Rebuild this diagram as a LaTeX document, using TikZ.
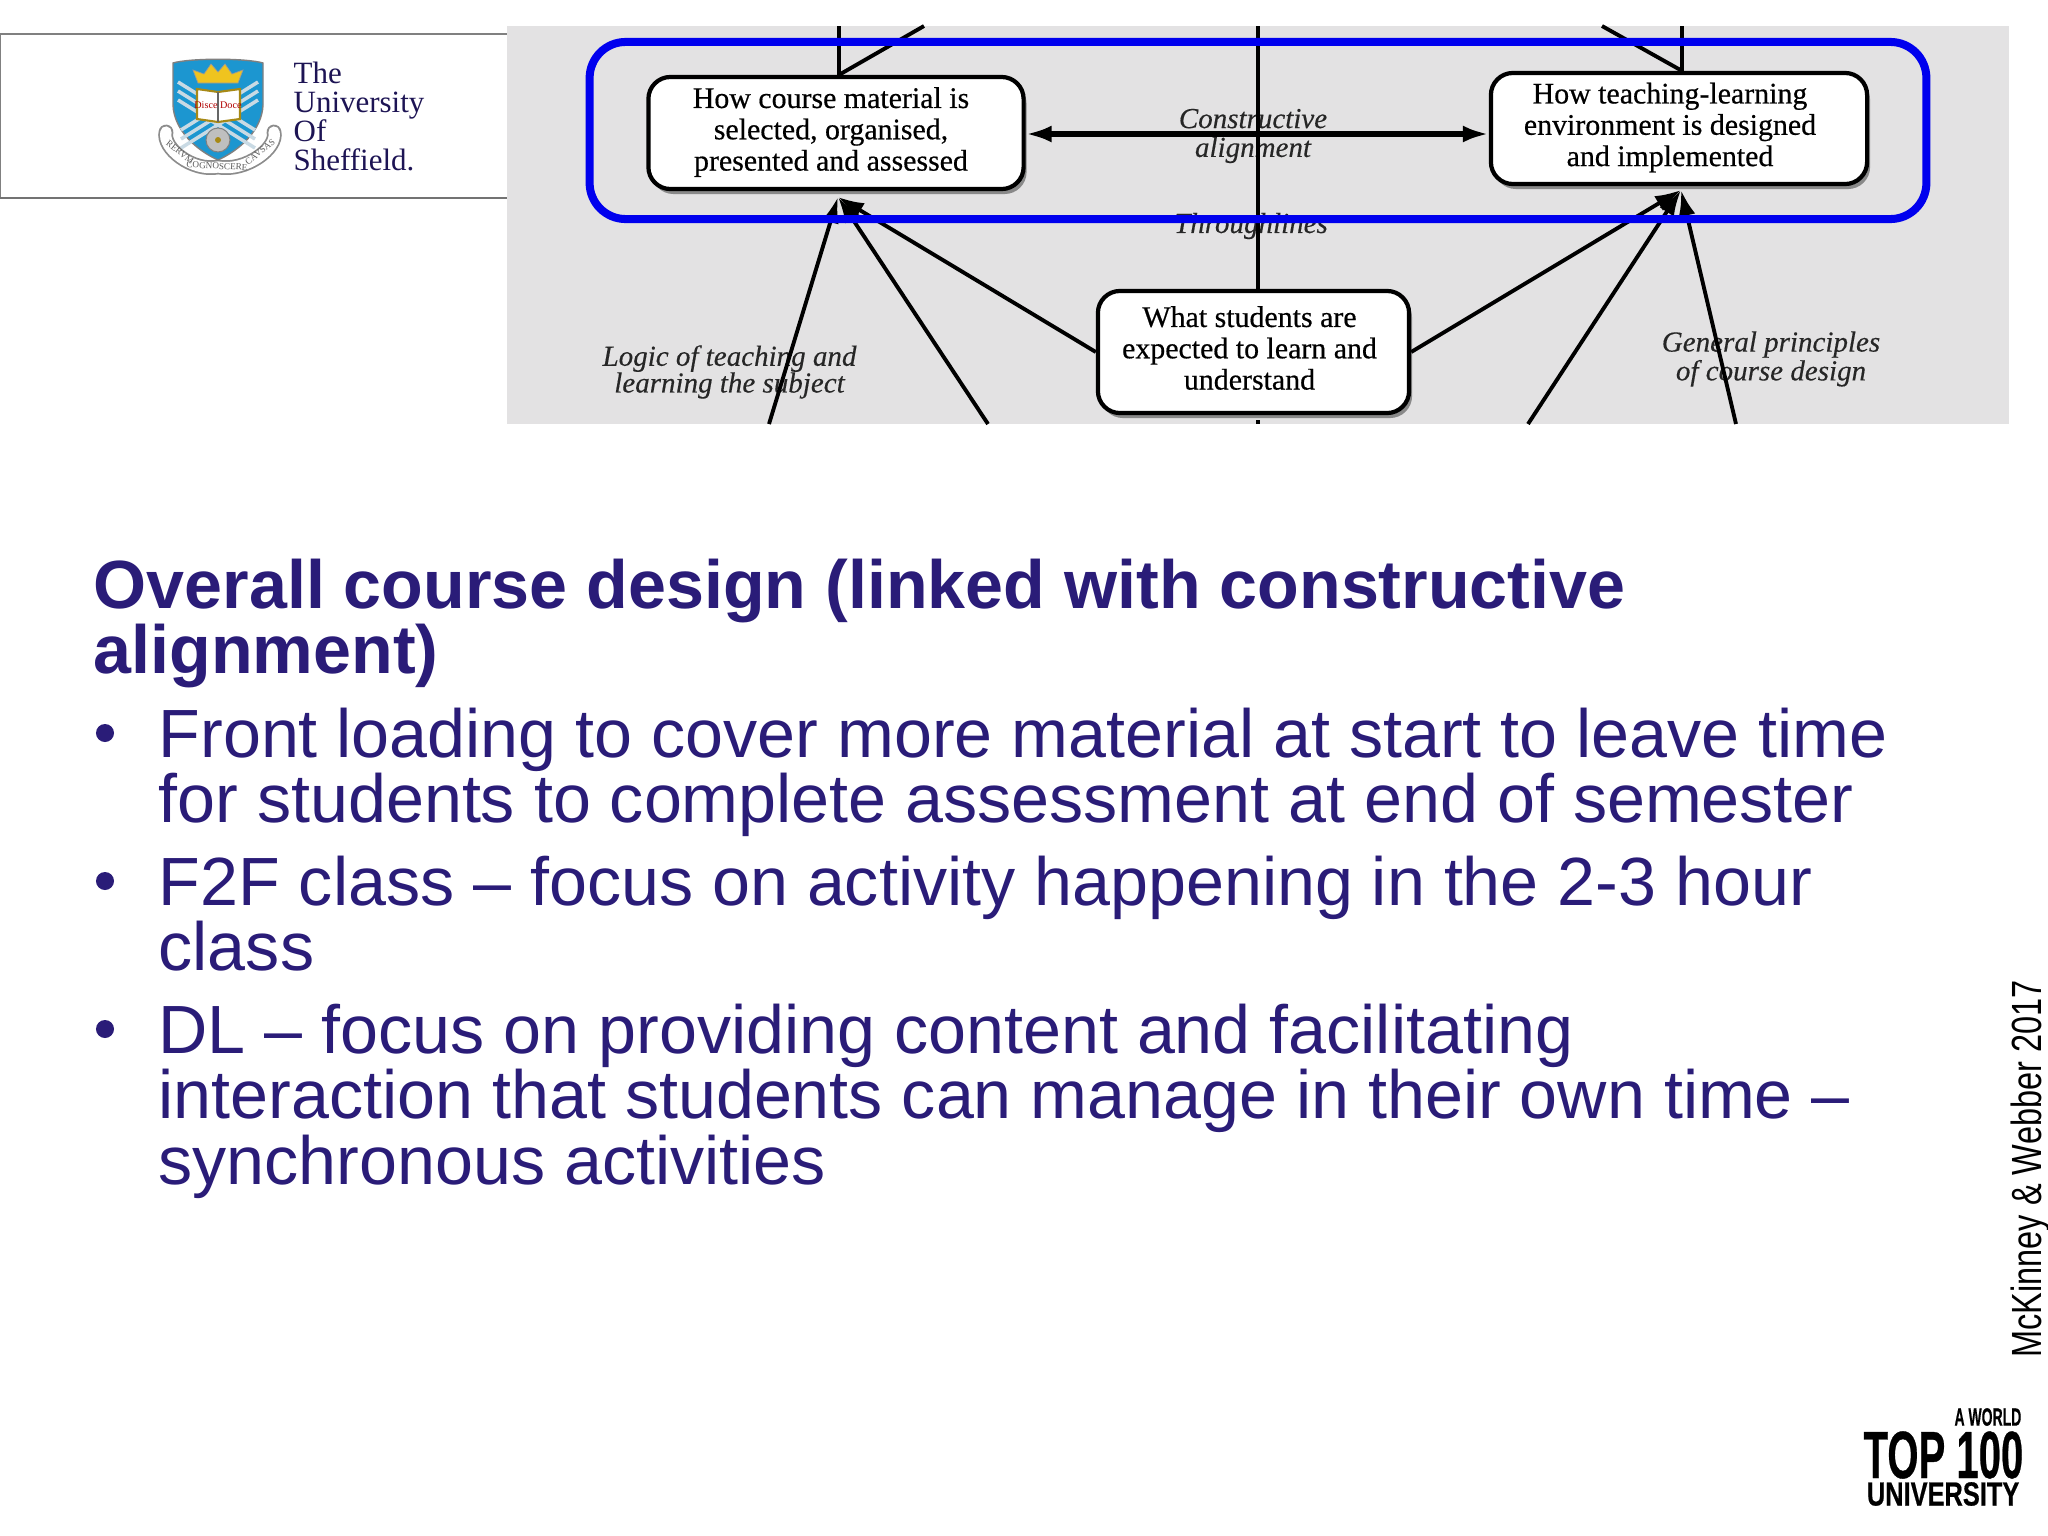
\documentclass[tikz,border=0pt]{standalone}
\usepackage{fontspec}
\setmainfont{Liberation Sans}
\newfontfamily\serifboxfont[FakeBold=0.5]{Liberation Serif}
\newfontfamily\seriflabelfont[FakeBold=0.3]{Liberation Serif}
\newfontfamily\seriffont{Liberation Serif}
\newfontfamily\creditfont[FakeStretch=0.77]{Liberation Sans}
\newfontfamily\rankfont[FakeBold=0.6]{Liberation Sans}
\usetikzlibrary{shadows,arrows.meta}
\setlength{\lineskiplimit}{-20pt}
\definecolor{slideink}{HTML}{2A1C78}
\definecolor{panelgrey}{HTML}{E3E2E3}
\definecolor{crestblue}{HTML}{1C96D0}
\definecolor{crestgold}{HTML}{EFC41F}
\definecolor{crestoar}{HTML}{C9DAE4}
\definecolor{framingblue}{HTML}{0000EE}
% text of a box, moved a little off the middle of the box
\newcommand{\boxlines}[3]{\lineskiplimit=0pt\hspace*{#1}\raisebox{#2}{\begin{tabular}{@{}c@{}}#3\end{tabular}}}
\tikzset{
  stagebox/.style={draw=black, line width=1.2pt, fill=white, rounded corners=0.22cm,
    inner sep=0pt, font=\serifboxfont\fontsize{8.5}{8.9}\selectfont,
    drop shadow={shadow xshift=0.03cm, shadow yshift=-0.05cm, fill=black!55, opacity=0.8}},
  linklabel/.style={align=center, inner sep=0pt, text=black!85,
    font=\seriflabelfont\itshape\fontsize{8.25}{8.2}\selectfont},
  link/.style={draw=black, line width=1.1pt},
  bodytext/.style={anchor=north west, align=left, inner sep=0pt, text=slideink,
    font=\fontsize{19.4}{18.64}\selectfont},
  bulletdot/.style={circle, fill=slideink, inner sep=0pt, minimum size=0.18cm},
  crestword/.style={inner sep=0pt, text=black!65, font=\seriffont\fontsize{2.6}{3}\selectfont},
  rankword/.style={inner sep=0pt, anchor=east, text=black}
}
\begin{document}
\begin{tikzpicture}[x=0.01cm, y=-0.01cm, >={Latex[length=0.26cm, width=0.17cm]}]

    % Fix the page
    \useasboundingbox (0,0) rectangle (2048,1536);
    \fill[white] (0,0) rectangle (2048,1536);

    % Draw the header strip
    \draw[black!50, line width=0.5pt] (507,34) -- (0.5,34) -- (0.5,198);
    \draw[black!55, line width=0.8pt] (0.5,198) -- (507,198);

    % Draw the crest
    \draw[black!45, line width=4.2pt, line cap=round] (166,132) .. controls (162,148) and (192,172) .. (218,167) .. controls (246,172) and (278,148) .. (274,132);
    \draw[white, line width=3.2pt, line cap=round] (166,132) .. controls (162,148) and (192,172) .. (218,167) .. controls (246,172) and (278,148) .. (274,132);
    \fill[crestblue, draw=black!50] (173,63) .. controls (190,58) and (246,58) .. (263,63) -- (263,105) .. controls (262,130) and (240,150) .. (218,160) .. controls (196,150) and (174,130) .. (173,105) -- cycle;
    \foreach \oarend/\oarstart in {178/255, 258/181} {
      \foreach \oarshift in {0,9,18} {
        \draw[crestoar, line width=1pt] (\oarend,82+\oarshift) -- (\oarstart,130+\oarshift);
      }
    }
    \fill[crestgold, draw=black!40, line width=0.2pt] (198,83) -- (193,70) -- (204,74) -- (211,64) -- (218,72) -- (225,64) -- (232,74) -- (243,70) -- (238,83) -- cycle;
    \fill[white, draw=crestgold!70!black, line width=0.6pt] (197,89) -- (218,92) -- (240,89) -- (240,119) -- (218,122) -- (197,119) -- cycle;
    \draw[black!60, line width=0.3pt] (218,92) -- (218,122);
    \node[inner sep=0pt, text=red!70!black, font=\seriffont\fontsize{2.9}{3}\selectfont] (crestmotto) at (218,105) {Disce Doce};
    \fill[white!75!black, draw=black!50, line width=0.3pt] (218,140) circle (12);
    \fill[crestgold!70!black] (218,140) circle (3);
    \node[crestword, rotate=-38] (crestleft) at (180,152) {RERVM};
    \node[crestword, rotate=-3] (crestmid) at (217,166) {COGNOSCERE};
    \node[crestword, rotate=38] (crestright) at (260,152) {CAVSAS};

    % University name
    \node[anchor=north west, align=left, inner sep=0pt, text=slideink!70!black, font=\seriffont\fontsize{8.8}{8.25}\selectfont] (uniname) at (293,61) {The\\University\\Of\\Sheffield.};

    % Draw the grey panel
    \fill[panelgrey] (507,26) rectangle (2009,424);

    % Add labels for the links
    \node[linklabel] (alignlabel) at (1253,136) {Constructive\\alignment};
    \node[linklabel] (throughlabel) at (1251,226) {Throughlines};
    \node[linklabel] (logiclabel) at (729.5,372) {Logic of teaching and\\[-0.6pt]learning the subject};
    \node[linklabel] (generallabel) at (1771,359) {General principles\\of course design};

    % Draw the three boxes
    \node[stagebox, minimum width=3.75cm, minimum height=1.12cm] (material) at (836,133) {\boxlines{-0.1cm}{-0.035cm}{How course material is\\selected, organised,\\presented and assessed}};
    \node[stagebox, minimum width=3.76cm, minimum height=1.11cm] (environment) at (1679,128.5) {\boxlines{-0.18cm}{-0.035cm}{How teaching-learning\\environment is designed\\and implemented}};
    \node[stagebox, minimum width=3.11cm, minimum height=1.22cm] (learning) at (1253.5,352) {\boxlines{-0.08cm}{0.04cm}{What students are\\expected to learn and\\understand}};

    % Free ends of the links, on the edges of the panel
    \coordinate (midtop) at (1258,26);
    \coordinate (midstub) at (1258,420);
    \coordinate (midbottom) at (1258,424);
    \coordinate (materialup) at (839,26);
    \coordinate (materialdiag) at (924,26);
    \coordinate (envup) at (1682,26);
    \coordinate (envdiag) at (1602,26);
    \coordinate (materialtip) at (838,197);
    \coordinate (envtip) at (1681,190);
    \coordinate (logicend) at (769,424);
    \coordinate (subjectend) at (988,424);
    \coordinate (contextend) at (1528,424);
    \coordinate (generalend) at (1736,424);

    % Draw the vertical lines and the top diagonals
    \draw[link] (midtop) -- (midtop |- learning.north);
    \draw[link] (midstub) -- (midbottom);
    \draw[link] (materialup) -- (materialup |- material.north);
    \draw[link] (materialdiag) -- (materialup |- material.north);
    \draw[link] (envup) -- (envup |- environment.north);
    \draw[link] (envdiag) -- (envup |- environment.north);

    % Draw the double arrow
    \draw[link, <->, line width=1.7pt] (material.east |- 0,134) -- (environment.west |- 0,134);

    % Draw the arrows into the two upper boxes
    \draw[link, ->] (logicend) -- (materialtip);
    \draw[link, ->] (subjectend) -- (materialtip);
    \draw[link, ->] (learning.west) -- (materialtip);
    \draw[link, ->] (contextend) -- (envtip);
    \draw[link, ->] (generalend) -- (envtip);
    \draw[link, ->] (learning.east) -- (envtip);

    % Draw the blue frame
    \node[draw=framingblue, line width=2.28pt, rounded corners=0.36cm, minimum width=13.36cm, minimum height=1.77cm] (frame) at (1258,130.5) {};

    % Body text
    \node[bodytext, font=\bfseries\fontsize{19.4}{18.64}\selectfont] (heading) at (93,558) {Overall course design (linked with constructive\\alignment)};
    \node[bodytext] (frontload) at (158,707) {Front loading to cover more material at start to leave time\\for students to complete assessment at end of semester};
    \node[bodytext] (facetoface) at (158,855) {F2F class -- focus on activity happening in the 2-3 hour\\class};
    \node[bodytext] (distance) at (158,1003) {DL -- focus on providing content and facilitating\\interaction that students can manage in their own time --\\synchronous activities};

    % Bullets
    \node[bulletdot] (dotfront) at (105,733) {};
    \node[bulletdot] (dotface) at (105,881) {};
    \node[bulletdot] (dotdist) at (105,1029) {};

    % Credit and rank mark
    \node[rotate=90, inner sep=0pt, text=black, font=\creditfont\fontsize{12}{12}\selectfont] (credit) at (2031,1169) {McKinney \& Webber 2017};
    \node[rankword, font=\rankfont\bfseries\fontsize{7.1}{8}\selectfont] (rankworld) at (2022,1417) {\scalebox{0.56}[1]{A WORLD}};
    \node[rankword, font=\rankfont\bfseries\fontsize{19}{20}\selectfont] (ranktop) at (2024,1455) {\scalebox{0.6}[1]{TOP 100}};
    \node[rankword, font=\rankfont\bfseries\fontsize{9.5}{10}\selectfont] (rankuni) at (2020,1494) {\scalebox{0.76}[1]{UNIVERSITY}};

\end{tikzpicture}
\end{document}
